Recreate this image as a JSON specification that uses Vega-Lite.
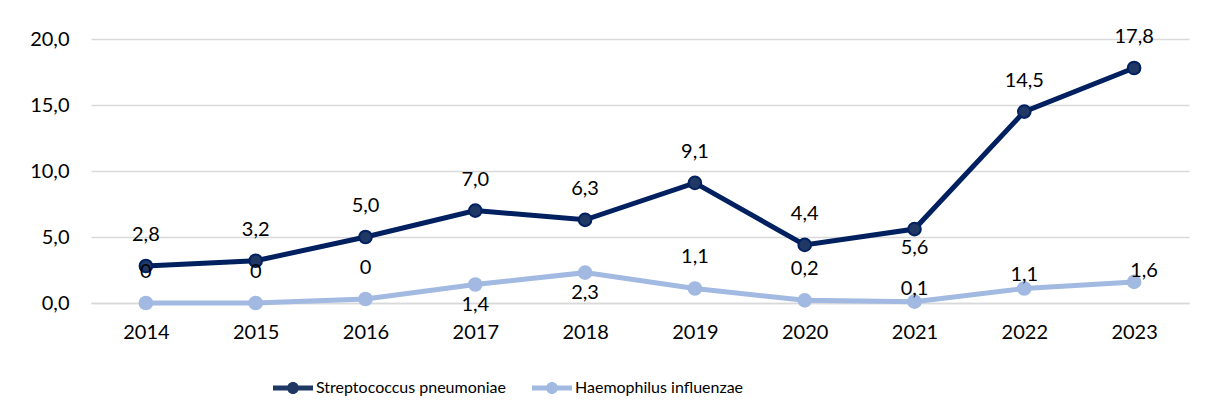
{
  "$schema": "https://vega.github.io/schema/vega-lite/v6.json",
  "width": 1098,
  "height": 264,
  "autosize": {"type": "none"},
  "padding": {"left": 91, "top": 39, "right": 16, "bottom": 116},
  "background": "white",
  "config": {
    "view": {"stroke": null},
    "font": "Lato",
    "text": {"font": "Lato", "fontSize": 20, "color": "#000000"}
  },
  "data": {
    "values": [
      {"year": "2014", "series": "Streptococcus pneumoniae", "value": 2.8, "label": "2,8"},
      {"year": "2015", "series": "Streptococcus pneumoniae", "value": 3.2, "label": "3,2"},
      {"year": "2016", "series": "Streptococcus pneumoniae", "value": 5.0, "label": "5,0"},
      {"year": "2017", "series": "Streptococcus pneumoniae", "value": 7.0, "label": "7,0"},
      {"year": "2018", "series": "Streptococcus pneumoniae", "value": 6.3, "label": "6,3"},
      {"year": "2019", "series": "Streptococcus pneumoniae", "value": 9.1, "label": "9,1"},
      {"year": "2020", "series": "Streptococcus pneumoniae", "value": 4.4, "label": "4,4"},
      {"year": "2021", "series": "Streptococcus pneumoniae", "value": 5.6, "label": "5,6"},
      {"year": "2022", "series": "Streptococcus pneumoniae", "value": 14.5, "label": "14,5"},
      {"year": "2023", "series": "Streptococcus pneumoniae", "value": 17.8, "label": "17,8"},
      {"year": "2014", "series": "Haemophilus influenzae", "value": 0, "label": "0"},
      {"year": "2015", "series": "Haemophilus influenzae", "value": 0, "label": "0"},
      {"year": "2016", "series": "Haemophilus influenzae", "value": 0.3, "label": "0"},
      {"year": "2017", "series": "Haemophilus influenzae", "value": 1.4, "label": "1,4"},
      {"year": "2018", "series": "Haemophilus influenzae", "value": 2.3, "label": "2,3"},
      {"year": "2019", "series": "Haemophilus influenzae", "value": 1.1, "label": "1,1"},
      {"year": "2020", "series": "Haemophilus influenzae", "value": 0.2, "label": "0,2"},
      {"year": "2021", "series": "Haemophilus influenzae", "value": 0.1, "label": "0,1"},
      {"year": "2022", "series": "Haemophilus influenzae", "value": 1.1, "label": "1,1"},
      {"year": "2023", "series": "Haemophilus influenzae", "value": 1.6, "label": "1,6"}
    ]
  },
  "encoding": {
    "x": {
      "field": "year", "type": "ordinal",
      "scale": {"type": "point", "padding": 0.5},
      "axis": {
        "title": null, "labelAngle": 0, "labelFontSize": 20, "labelColor": "#000000",
        "labelFont": "Lato", "ticks": false, "domain": true, "domainColor": "#d9d9d9",
        "domainWidth": 1.5, "labelPadding": 19
      }
    },
    "y": {
      "field": "value", "type": "quantitative",
      "scale": {"domain": [0, 20]},
      "axis": {
        "title": null, "values": [0, 5, 10, 15, 20], "labelFontSize": 20, "labelColor": "#000000",
        "labelFont": "Lato", "ticks": false, "domain": false, "gridColor": "#d9d9d9",
        "gridWidth": 1.5, "labelPadding": 22,
        "labelExpr": "replace(format(datum.value, '.1f'), '.', ',')"
      }
    }
  },
  "layer": [
    {
      "mark": {"type": "line", "strokeWidth": 5, "strokeCap": "round"},
      "encoding": {
        "color": {
          "field": "series", "type": "nominal",
          "scale": {"domain": ["Streptococcus pneumoniae", "Haemophilus influenzae"], "range": ["#002060", "#a2b9e2"]},
          "legend": {
            "title": null, "orient": "none", "direction": "horizontal",
            "legendX": 182, "legendY": 329,
            "labelFontSize": 16, "labelFont": "Lato", "labelColor": "#000000", "labelLimit": 400,
            "symbolType": "M-1,-0.125H1V0.125H-1Z M0.3,0A0.3,0.3 0 1,1 -0.3,0A0.3,0.3 0 1,1 0.3,0Z",
            "symbolSize": 1600, "symbolStrokeWidth": 0, "labelOffset": 3,
            "columnPadding": 26, "symbolOpacity": 1
          }
        },
        "detail": {"field": "series"}
      }
    },
    {
      "mark": {"type": "point", "filled": true, "size": 160, "opacity": 1},
      "encoding": {
        "color": {"field": "series", "type": "nominal", "scale": {"domain": ["Streptococcus pneumoniae", "Haemophilus influenzae"], "range": ["#002060", "#a2b9e2"]}, "legend": null},
        "fill": {"field": "series", "type": "nominal", "scale": {"domain": ["Streptococcus pneumoniae", "Haemophilus influenzae"], "range": ["#203864", "#a2b9e2"]}, "legend": null},
        "stroke": {"field": "series", "type": "nominal", "scale": {"domain": ["Streptococcus pneumoniae", "Haemophilus influenzae"], "range": ["#002060", "#a2b9e2"]}, "legend": null}
      }
    },
    {
      "transform": [{"filter": "datum.series == 'Streptococcus pneumoniae' && datum.year != '2021'"}],
      "mark": {"type": "text", "dy": -31},
      "encoding": {"text": {"field": "label"}}
    },
    {
      "transform": [{"filter": "datum.series == 'Streptococcus pneumoniae' && datum.year == '2021'"}],
      "mark": {"type": "text", "dy": 19},
      "encoding": {"text": {"field": "label"}}
    },
    {
      "transform": [{"filter": "datum.series == 'Haemophilus influenzae' && indexof(['2014','2015','2016','2019','2020'], datum.year) >= 0"}],
      "mark": {"type": "text", "dy": -31},
      "encoding": {"text": {"field": "label"}}
    },
    {
      "transform": [{"filter": "datum.series == 'Haemophilus influenzae' && indexof(['2017','2018'], datum.year) >= 0"}],
      "mark": {"type": "text", "dy": 20},
      "encoding": {"text": {"field": "label"}}
    },
    {
      "transform": [{"filter": "datum.series == 'Haemophilus influenzae' && indexof(['2021','2022'], datum.year) >= 0"}],
      "mark": {"type": "text", "dy": -13},
      "encoding": {"text": {"field": "label"}}
    },
    {
      "transform": [{"filter": "datum.series == 'Haemophilus influenzae' && datum.year == '2023'"}],
      "mark": {"type": "text", "dy": -11, "dx": 10},
      "encoding": {"text": {"field": "label"}}
    }
  ]
}
